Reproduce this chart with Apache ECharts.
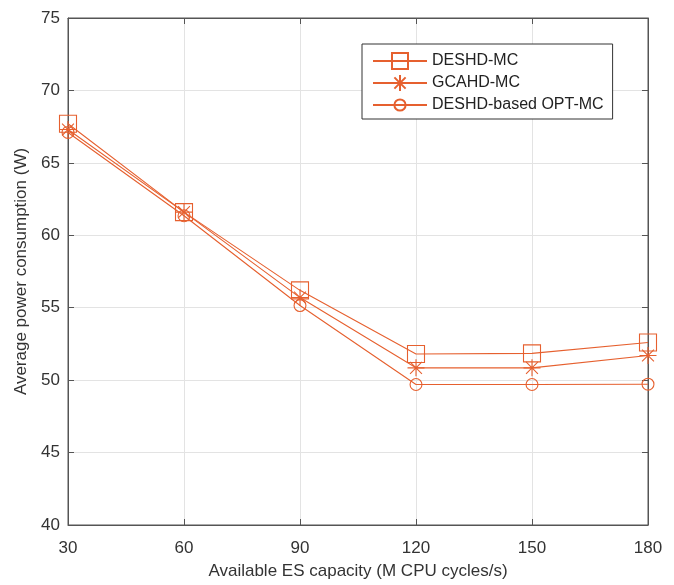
<!DOCTYPE html>
<html>
<head>
<meta charset="utf-8">
<script src="https://cdn.jsdelivr.net/npm/echarts@6/dist/echarts.min.js"></script>
<style>
  html, body { margin: 0; padding: 0; background: #fff; }
  #main { width: 674px; height: 585px; }
</style>
</head>
<body>
<div id="main"></div>
<script>
// data
var capacity = [30, 60, 90, 120, 150, 180];
var deshdMC = [67.7, 61.6, 56.2, 51.8, 51.85, 52.6];
var gcahdMC = [67.3, 61.6, 55.7, 50.85, 50.85, 51.7];
var optMC = [67.1, 61.35, 55.15, 49.7, 49.7, 49.72];
var seriesNames = ['DESHD-MC', 'GCAHD-MC', 'DESHD-based OPT-MC'];

var C = '#e6602f';
var FONT = 'Liberation Sans';

// asterisk (plus + cross) and a circle padded inside its box so it draws smaller
var STAR = 'path://M0,-1L0,1M-1,0L1,0M-0.7,-0.7L0.7,0.7M-0.7,0.7L0.7,-0.7';
var CIRC = 'path://M-1,-1M1,1M0.7,0A0.7,0.7,0,1,1,-0.7,0A0.7,0.7,0,1,1,0.7,0Z';

function pairs(vals) {
    return capacity.map(function (x, i) { return [x, vals[i]]; });
}

function mk(name, vals, symbol, size) {
    return {
        name: name,
        type: 'line',
        data: pairs(vals),
        symbol: symbol,
        symbolSize: size,
        showAllSymbol: true,
        lineStyle: { color: C, width: 1.1 },
        itemStyle: { color: 'rgba(0,0,0,0)', borderColor: C, borderWidth: 1.1 },
        emphasis: { disabled: true }
    };
}

var myChart = echarts.init(document.getElementById('main'));
var option = {
    backgroundColor: '#fff',
    animation: false,
    textStyle: { fontFamily: FONT },
    grid: {
        left: 68, right: 26, top: 18, bottom: 58,
        show: true, borderColor: '#555', borderWidth: 1
    },
    legend: {
        data: seriesNames,
        orient: 'vertical',
        left: 362,
        top: 44,
        itemWidth: 54,
        itemHeight: 20,
        itemGap: 4,
        padding: [8, 9, 5, 10],
        borderColor: '#333',
        borderWidth: 1,
        backgroundColor: '#fff',
        textStyle: { fontSize: 16, color: '#222', fontFamily: FONT }
    },
    xAxis: [{
        type: 'value',
        min: 30, max: 180, interval: 30,
        name: 'Available ES capacity (M CPU cycles/s)',
        nameLocation: 'middle',
        nameGap: 38,
        nameTextStyle: { fontSize: 17, color: '#333' },
        axisLine: { lineStyle: { color: '#555' } },
        axisTick: { inside: true, length: 6, lineStyle: { color: '#555' } },
        axisLabel: { fontSize: 17, color: '#333', margin: 15 },
        splitLine: { show: true, lineStyle: { color: '#e3e3e3' } }
    }, {
        type: 'value', position: 'top',
        min: 30, max: 180, interval: 30,
        axisLine: { lineStyle: { color: '#555' } },
        axisTick: { inside: true, length: 6, lineStyle: { color: '#555' } },
        axisLabel: { show: false },
        splitLine: { show: false }
    }],
    yAxis: [{
        type: 'value',
        min: 40, max: 75, interval: 5,
        name: 'Average power consumption (W)',
        nameLocation: 'middle',
        nameGap: 36,
        nameTextStyle: { fontSize: 17, color: '#333' },
        axisLine: { show: true, lineStyle: { color: '#555' } },
        axisTick: { show: true, inside: true, length: 6, lineStyle: { color: '#555' } },
        axisLabel: { fontSize: 17, color: '#333', margin: 8 },
        splitLine: { show: true, lineStyle: { color: '#e3e3e3' } }
    }, {
        type: 'value', position: 'right',
        min: 40, max: 75, interval: 5,
        axisLine: { show: true, lineStyle: { color: '#555' } },
        axisTick: { show: true, inside: true, length: 6, lineStyle: { color: '#555' } },
        axisLabel: { show: false },
        splitLine: { show: false }
    }],
    series: [
        mk(seriesNames[0], deshdMC, 'rect', 17),
        mk(seriesNames[1], gcahdMC, STAR, 17),
        mk(seriesNames[2], optMC, CIRC, 17)
    ]
};
myChart.setOption(option, true);
</script>
</body>
</html>
